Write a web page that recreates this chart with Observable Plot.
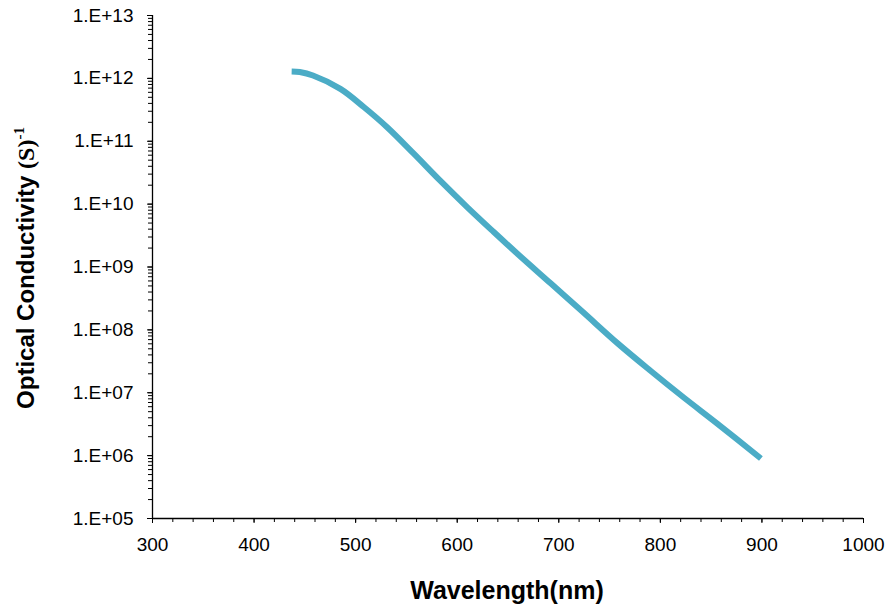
<!DOCTYPE html>
<html>
<head>
<meta charset="utf-8">
<script src="https://cdn.jsdelivr.net/npm/d3@7"></script>
<script src="https://cdn.jsdelivr.net/npm/@observablehq/plot@0.6"></script>
<style>
  html, body { margin: 0; padding: 0; background: #fff; }
</style>
</head>
<body>
<div id="chart"></div>
<script>
// Data
const wavelength = [437, 445, 458, 485, 508, 531, 557, 583, 610, 636, 659, 692, 724, 758, 790, 823, 856, 899];
const conductivity = [1.29e12, 1.26e12, 1.11e12, 6.8e11, 3.5e11, 1.67e11, 6.4e10, 2.38e10, 8.9e9, 3.6e9, 1.64e9, 5.5e8, 1.9e8, 6.1e7, 2.26e7, 8.4e6, 3.24e6, 9.0e5];

// Tick values
const xMajorTicks = [300, 400, 500, 600, 700, 800, 900, 1000];
const xMinorTicks = d3.range(300, 1001, 20);
const yMajorTicks = [1e5, 1e6, 1e7, 1e8, 1e9, 1e10, 1e11, 1e12, 1e13];
const yMinorTicks = d3.scaleLog().domain([1e5, 1e13]).ticks();

const xTitle = "Wavelength(nm)";
const yTitleMain = "Optical Conductivity ";
const yTitleUnit = "(S)";
const yTitleSup = "-1";

const data = wavelength.map((w, i) => ({wavelength: w, conductivity: conductivity[i]}));
const fmtY = d => "1.E+" + String(Math.round(Math.log10(d))).padStart(2, "0");
const font = "Arial, 'Liberation Sans', sans-serif";

const svg = Plot.plot({
  width: 888,
  height: 607,
  marginLeft: 152,
  marginRight: 25,
  marginTop: 15,
  marginBottom: 89,
  style: {fontFamily: font, fontSize: "19px", color: "#000", background: "#fff"},
  x: {domain: [300, 1000], label: null},
  y: {type: "log", domain: [1e5, 1e13], label: null},
  marks: [
    Plot.axisX(xMinorTicks, {tickSize: 4, tickFormat: () => "", label: null}),
    Plot.axisX(xMajorTicks, {tickSize: 5, tickPadding: 14, label: null, fontSize: 19, tickFormat: d => String(d)}),
    Plot.axisY(yMinorTicks, {tickSize: 4, tickFormat: () => "", label: null}),
    Plot.axisY(yMajorTicks, {tickSize: 5, tickPadding: 14, label: null, fontSize: 19, tickFormat: fmtY}),
    Plot.ruleX([300], {stroke: "#000", strokeWidth: 1.3}),
    Plot.ruleY([1e5], {stroke: "#000", strokeWidth: 1.3}),
    Plot.line(data, {x: "wavelength", y: "conductivity", stroke: "#4BACC6", strokeWidth: 6, strokeLinecap: "butt", curve: "catmull-rom"})
  ]
});

const s = d3.select(svg);
s.append("text")
  .attr("x", 507)
  .attr("y", 599)
  .attr("text-anchor", "middle")
  .attr("font-family", font)
  .attr("font-weight", "bold")
  .attr("font-size", 25)
  .text(xTitle);

const yt = s.append("text")
  .attr("transform", "translate(34,268) rotate(-90)")
  .attr("text-anchor", "middle")
  .attr("font-family", font)
  .attr("font-weight", "bold")
  .attr("font-size", 24);
yt.append("tspan").text(yTitleMain);
yt.append("tspan").attr("font-family", "'Times New Roman', 'Liberation Serif', serif").text(yTitleUnit);
yt.append("tspan").attr("font-family", "'Times New Roman', 'Liberation Serif', serif").attr("font-size", 15).attr("dy", -10).text(yTitleSup);

document.getElementById("chart").appendChild(svg);
</script>
</body>
</html>
